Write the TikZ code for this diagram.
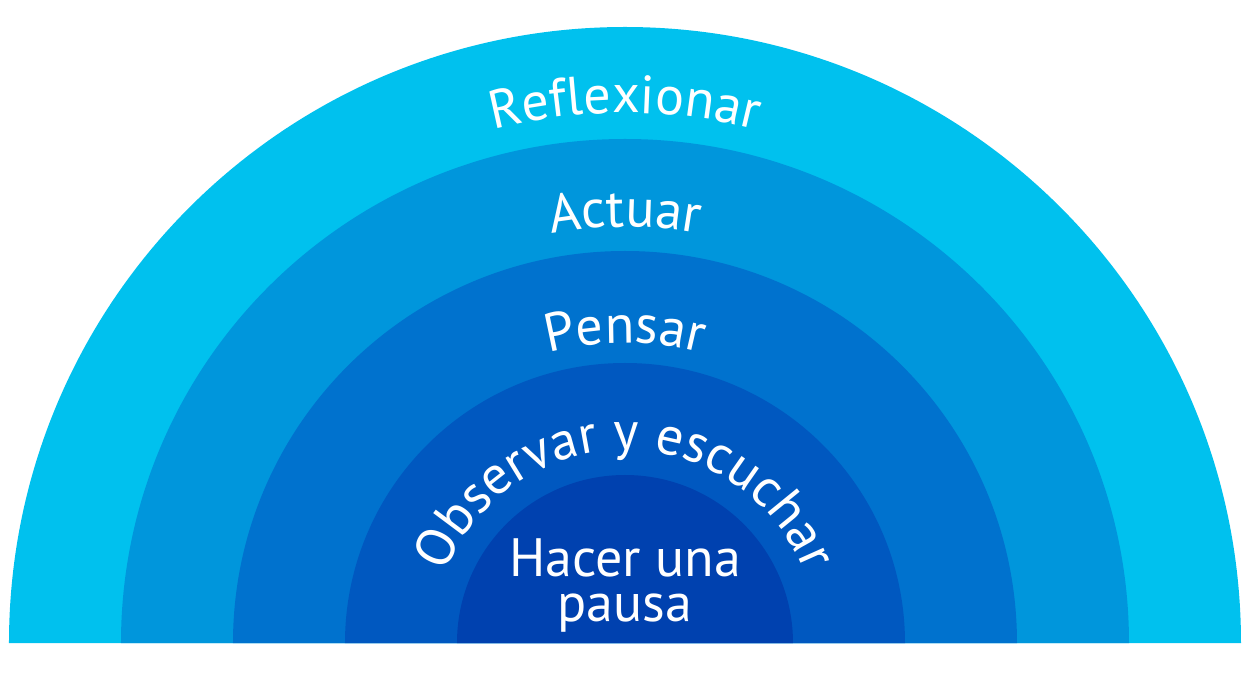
\documentclass[tikz,border=0pt]{standalone}
\usepackage{fontspec}
\setmainfont{PT Sans}
\usetikzlibrary{decorations.text}
\definecolor{band1}{RGB}{0,193,238}
\definecolor{band2}{RGB}{0,150,220}
\definecolor{band3}{RGB}{0,114,206}
\definecolor{band4}{RGB}{0,88,192}
\definecolor{band5}{RGB}{0,65,175}
\tikzset{
  arclabel/.style={decorate, decoration={text along path, text align=center,
    text={|\fontsize{54}{54}\selectfont\color{white}|#1}}},
}
\begin{document}
\begin{tikzpicture}[x=1pt,y=1pt]
\useasboundingbox (-625,-32) rectangle (626,643);
\fill[band1] (-616pt,0) arc[start angle=180,end angle=0,radius=616pt] -- cycle;
\fill[band2] (-504pt,0) arc[start angle=180,end angle=0,radius=504pt] -- cycle;
\fill[band3] (-392pt,0) arc[start angle=180,end angle=0,radius=392pt] -- cycle;
\fill[band4] (-280pt,0) arc[start angle=180,end angle=0,radius=280pt] -- cycle;
\fill[band5] (-168pt,0) arc[start angle=180,end angle=0,radius=168pt] -- cycle;
\path[arclabel={Reflexionar}] (-530pt,0) arc[start angle=180,end angle=0,radius=530pt];
\path[arclabel={Actuar}] (-416pt,0) arc[start angle=180,end angle=0,radius=416pt];
\path[arclabel={Pensar}] (-300pt,0) arc[start angle=180,end angle=0,radius=300pt];
\path[arclabel={Observar y escuchar}] (-193pt,0) arc[start angle=180,end angle=0,radius=193pt];
\node[anchor=base, align=center, text=white, font=\fontsize{54}{45}\selectfont, inner sep=0pt] (pausa) at (0,21) {Hacer una\\pausa};
\end{tikzpicture}
\end{document}
